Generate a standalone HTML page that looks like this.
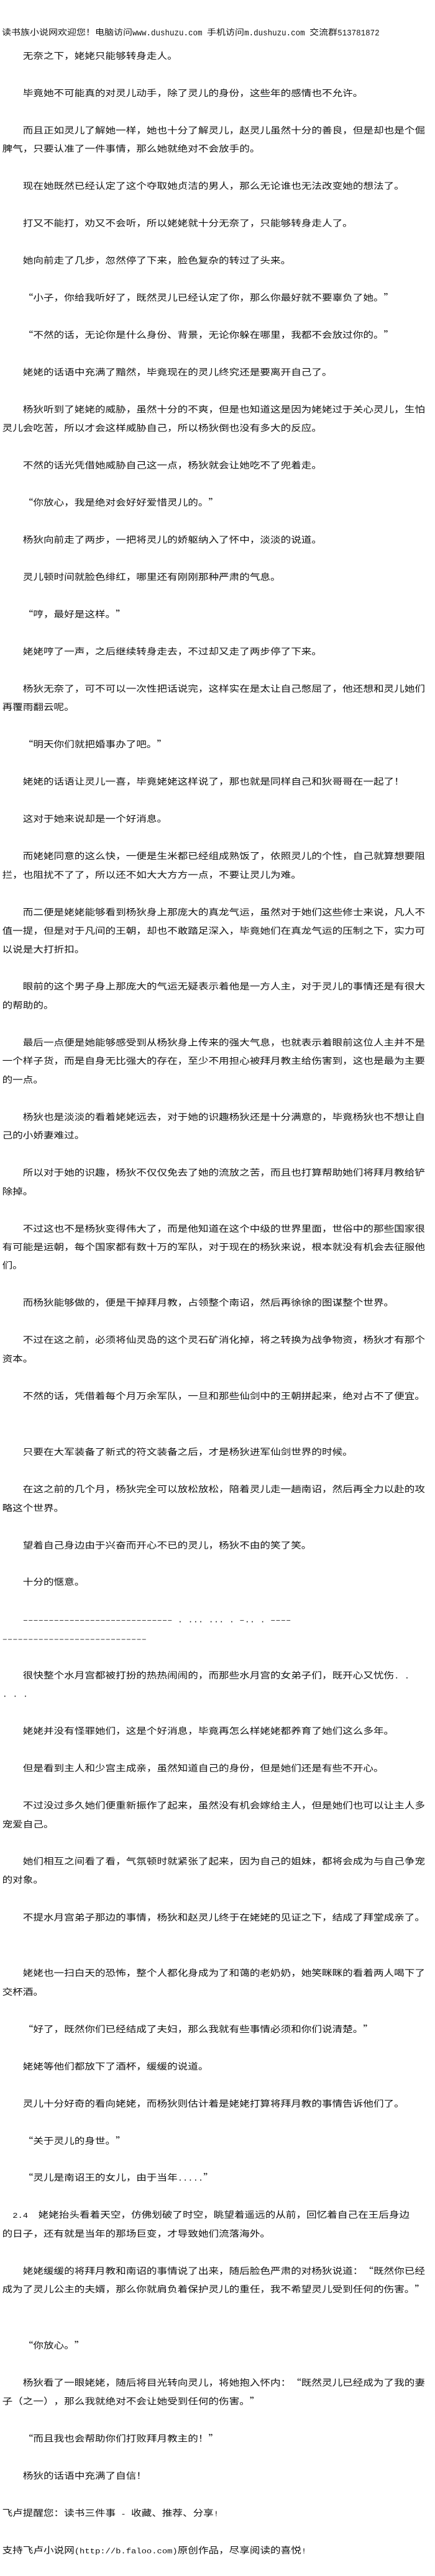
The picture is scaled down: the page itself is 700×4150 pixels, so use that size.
<!DOCTYPE html>
<html lang="zh-CN">
<head>
<meta charset="utf-8">
<title>读书族小说网</title>
<style>
html,body{margin:0;padding:0;background:#fff;width:700px;height:4150px;overflow:hidden}
body{position:relative;color:#111;font-family:"Noto Sans CJK SC","WenQuanYi Zen Hei",sans-serif;text-spacing-trim:space-all;font-kerning:none}
#h{position:absolute;left:3px;top:37px;height:30px;line-height:30px;font-size:15px;white-space:pre;transform:scaleY(.87);transform-origin:0 50%}
#h span{display:inline-block;font-family:"Liberation Mono",monospace;font-size:12.5px;transform:scaleY(1.25);white-space:pre}
#c{position:absolute;left:3.6px;top:74px;width:697px;transform:scaleY(.87);transform-origin:0 0;font-size:16.6px}
#c p{margin:0;height:34.483px;line-height:34.483px;overflow:visible;white-space:pre}
#c span{font-family:"Liberation Mono",monospace;font-size:13.83px}
</style>
</head>
<body>
<div id="h">读书族小说网欢迎您！电脑访问<span>www.dushuzu.com </span>手机访问<span>m.dushuzu.com </span>交流群<span>513781872</span></div>
<div id="c">
<p>　　无奈之下，姥姥只能够转身走人。</p>
<p></p>
<p>　　毕竟她不可能真的对灵儿动手，除了灵儿的身份，这些年的感情也不允许。</p>
<p></p>
<p>　　而且正如灵儿了解她一样，她也十分了解灵儿，赵灵儿虽然十分的善良，但是却也是个倔</p>
<p>脾气，只要认准了一件事情，那么她就绝对不会放手的。</p>
<p></p>
<p>　　现在她既然已经认定了这个夺取她贞洁的男人，那么无论谁也无法改变她的想法了。</p>
<p></p>
<p>　　打又不能打，劝又不会听，所以姥姥就十分无奈了，只能够转身走人了。</p>
<p></p>
<p>　　她向前走了几步，忽然停了下来，脸色复杂的转过了头来。</p>
<p></p>
<p>　　“小子，你给我听好了，既然灵儿已经认定了你，那么你最好就不要辜负了她。”</p>
<p></p>
<p>　　“不然的话，无论你是什么身份、背景，无论你躲在哪里，我都不会放过你的。”</p>
<p></p>
<p>　　姥姥的话语中充满了黯然，毕竟现在的灵儿终究还是要离开自己了。</p>
<p></p>
<p>　　杨狄听到了姥姥的威胁，虽然十分的不爽，但是也知道这是因为姥姥过于关心灵儿，生怕</p>
<p>灵儿会吃苦，所以才会这样威胁自己，所以杨狄倒也没有多大的反应。</p>
<p></p>
<p>　　不然的话光凭借她威胁自己这一点，杨狄就会让她吃不了兜着走。</p>
<p></p>
<p>　　“你放心，我是绝对会好好爱惜灵儿的。”</p>
<p></p>
<p>　　杨狄向前走了两步，一把将灵儿的娇躯纳入了怀中，淡淡的说道。</p>
<p></p>
<p>　　灵儿顿时间就脸色绯红，哪里还有刚刚那种严肃的气息。</p>
<p></p>
<p>　　“哼，最好是这样。”</p>
<p></p>
<p>　　姥姥哼了一声，之后继续转身走去，不过却又走了两步停了下来。</p>
<p></p>
<p>　　杨狄无奈了，可不可以一次性把话说完，这样实在是太让自己憋屈了，他还想和灵儿她们</p>
<p>再覆雨翻云呢。</p>
<p></p>
<p>　　“明天你们就把婚事办了吧。”</p>
<p></p>
<p>　　姥姥的话语让灵儿一喜，毕竟姥姥这样说了，那也就是同样自己和狄哥哥在一起了！</p>
<p></p>
<p>　　这对于她来说却是一个好消息。</p>
<p></p>
<p>　　而姥姥同意的这么快，一便是生米都已经组成熟饭了，依照灵儿的个性，自己就算想要阻</p>
<p>拦，也阻扰不了了，所以还不如大大方方一点，不要让灵儿为难。</p>
<p></p>
<p>　　而二便是姥姥能够看到杨狄身上那庞大的真龙气运，虽然对于她们这些修士来说，凡人不</p>
<p>值一提，但是对于凡间的王朝，却也不敢踏足深入，毕竟她们在真龙气运的压制之下，实力可</p>
<p>以说是大打折扣。</p>
<p></p>
<p>　　眼前的这个男子身上那庞大的气运无疑表示着他是一方人主，对于灵儿的事情还是有很大</p>
<p>的帮助的。</p>
<p></p>
<p>　　最后一点便是她能够感受到从杨狄身上传来的强大气息，也就表示着眼前这位人主并不是</p>
<p>一个样子货，而是自身无比强大的存在，至少不用担心被拜月教主给伤害到，这也是最为主要</p>
<p>的一点。</p>
<p></p>
<p>　　杨狄也是淡淡的看着姥姥远去，对于她的识趣杨狄还是十分满意的，毕竟杨狄也不想让自</p>
<p>己的小娇妻难过。</p>
<p></p>
<p>　　所以对于她的识趣，杨狄不仅仅免去了她的流放之苦，而且也打算帮助她们将拜月教给铲</p>
<p>除掉。</p>
<p></p>
<p>　　不过这也不是杨狄变得伟大了，而是他知道在这个中级的世界里面，世俗中的那些国家很</p>
<p>有可能是运朝，每个国家都有数十万的军队，对于现在的杨狄来说，根本就没有机会去征服他</p>
<p>们。</p>
<p></p>
<p>　　而杨狄能够做的，便是干掉拜月教，占领整个南诏，然后再徐徐的图谋整个世界。</p>
<p></p>
<p>　　不过在这之前，必须将仙灵岛的这个灵石矿消化掉，将之转换为战争物资，杨狄才有那个</p>
<p>资本。</p>
<p></p>
<p>　　不然的话，凭借着每个月万余军队，一旦和那些仙剑中的王朝拼起来，绝对占不了便宜。</p>
<p></p>
<p></p>
<p>　　只要在大军装备了新式的符文装备之后，才是杨狄进军仙剑世界的时候。</p>
<p></p>
<p>　　在这之前的几个月，杨狄完全可以放松放松，陪着灵儿走一趟南诏，然后再全力以赴的攻</p>
<p>略这个世界。</p>
<p></p>
<p>　　望着自己身边由于兴奋而开心不已的灵儿，杨狄不由的笑了笑。</p>
<p></p>
<p>　　十分的惬意。</p>
<p></p>
<p>　　<span>––––––––––––––––––––––––––––– . ... ... . –.. . ––––</span></p>
<p><span>––––––––––––––––––––––––––––</span></p>
<p></p>
<p>　　很快整个水月宫都被打扮的热热闹闹的，而那些水月宫的女弟子们，既开心又忧伤<span>. .</span></p>
<p><span>. . .</span></p>
<p></p>
<p>　　姥姥并没有怪罪她们，这是个好消息，毕竟再怎么样姥姥都养育了她们这么多年。</p>
<p></p>
<p>　　但是看到主人和少宫主成亲，虽然知道自己的身份，但是她们还是有些不开心。</p>
<p></p>
<p>　　不过没过多久她们便重新振作了起来，虽然没有机会嫁给主人，但是她们也可以让主人多</p>
<p>宠爱自己。</p>
<p></p>
<p>　　她们相互之间看了看，气氛顿时就紧张了起来，因为自己的姐妹，都将会成为与自己争宠</p>
<p>的对象。</p>
<p></p>
<p>　　不提水月宫弟子那边的事情，杨狄和赵灵儿终于在姥姥的见证之下，结成了拜堂成亲了。</p>
<p></p>
<p></p>
<p>　　姥姥也一扫白天的恐怖，整个人都化身成为了和蔼的老奶奶，她笑眯眯的看着两人喝下了</p>
<p>交杯酒。</p>
<p></p>
<p>　　“好了，既然你们已经结成了夫妇，那么我就有些事情必须和你们说清楚。”</p>
<p></p>
<p>　　姥姥等他们都放下了酒杯，缓缓的说道。</p>
<p></p>
<p>　　灵儿十分好奇的看向姥姥，而杨狄则估计着是姥姥打算将拜月教的事情告诉他们了。</p>
<p></p>
<p>　　“关于灵儿的身世。”</p>
<p></p>
<p>　　“灵儿是南诏王的女儿，由于当年<span>.....</span>”</p>
<p></p>
<p>　<span>2.4</span>　姥姥抬头看着天空，仿佛划破了时空，眺望着遥远的从前，回忆着自己在王后身边</p>
<p>的日子，还有就是当年的那场巨变，才导致她们流落海外。</p>
<p></p>
<p>　　姥姥缓缓的将拜月教和南诏的事情说了出来，随后脸色严肃的对杨狄说道：“既然你已经</p>
<p>成为了灵儿公主的夫婿，那么你就肩负着保护灵儿的重任，我不希望灵儿受到任何的伤害。”</p>
<p></p>
<p></p>
<p>　　“你放心。”</p>
<p></p>
<p>　　杨狄看了一眼姥姥，随后将目光转向灵儿，将她抱入怀内：“既然灵儿已经成为了我的妻</p>
<p>子（之一），那么我就绝对不会让她受到任何的伤害。”</p>
<p></p>
<p>　　“而且我也会帮助你们打败拜月教主的！”</p>
<p></p>
<p>　　杨狄的话语中充满了自信！</p>
<p></p>
<p>飞卢提醒您：读书三件事<span> - </span>收藏、推荐、分享<span>!</span></p>
<p></p>
<p>支持飞卢小说网<span>(http://b.faloo.com)</span>原创作品，尽享阅读的喜悦<span>!</span></p>
</div>
</body>
</html>
